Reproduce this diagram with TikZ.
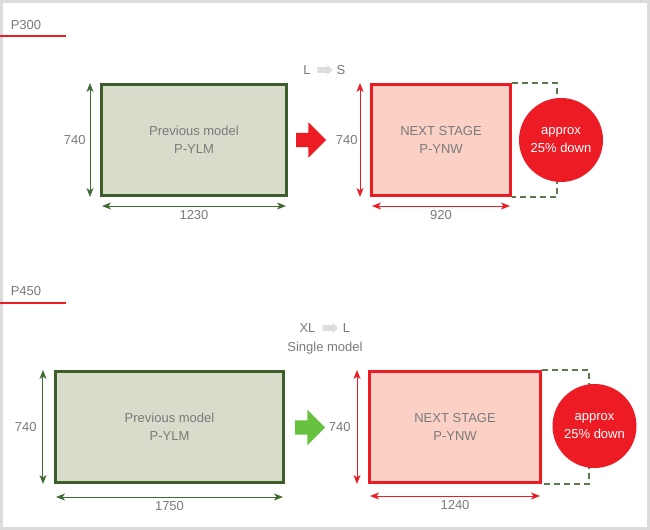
\documentclass[tikz,border=0pt]{standalone}
\usepackage{fontspec}
\setmainfont{Liberation Sans}
\usepackage{xcolor}
\usetikzlibrary{shapes.arrows,positioning,calc,arrows.meta}

\definecolor{oldgreen}{HTML}{3B5E2B}
\definecolor{oldfill}{HTML}{D9DCCB}
\definecolor{dimgreen}{HTML}{3F6B30}
\definecolor{dashgreen}{HTML}{5B7A4D}
\definecolor{mainred}{HTML}{ED1C24}
\definecolor{newfill}{HTML}{FBD1C6}
\definecolor{labelgray}{HTML}{7A7A7A}
\definecolor{arrowgray}{HTML}{DDDDDD}
\definecolor{framegray}{HTML}{DCDCDC}
\definecolor{goodgreen}{HTML}{67C13F}

\begin{document}
\begin{tikzpicture}[x=1bp, y=-1bp,
    font=\fontsize{13bp}{18bp}\selectfont,
    oldbox/.style={rectangle, draw=oldgreen, line width=3bp, fill=oldfill, text=labelgray, align=center, minimum height=111bp},
    newbox/.style={rectangle, draw=mainred, line width=3bp, fill=newfill, text=labelgray, align=center, minimum height=111bp},
    greendim/.style={draw=dimgreen, line width=1bp, {Stealth[length=9bp,width=7bp,inset=2.5bp]}-{Stealth[length=9bp,width=7bp,inset=2.5bp]}},
    reddim/.style={draw=mainred, line width=1bp, {Stealth[length=9bp,width=7bp,inset=2.5bp]}-{Stealth[length=9bp,width=7bp,inset=2.5bp]}},
    dimlabel/.style={text=labelgray, inner sep=4bp},
    fatarrow/.style={single arrow, single arrow head extend=10.5bp, minimum width=35bp, minimum height=30bp, inner xsep=0pt, inner ysep=7bp},
    smallarrow/.style={single arrow, fill=arrowgray, single arrow head extend=2.25bp, minimum width=10bp, minimum height=15bp, inner xsep=0pt, inner ysep=2.75bp},
    cutline/.style={draw=dashgreen, line width=1.5bp, dash pattern=on 6bp off 4bp},
    downcircle/.style={circle, fill=mainred, text=white, align=center, minimum size=84bp, inner sep=0pt, font=\fontsize{13bp}{17.5bp}\selectfont},
    tagline/.style={color=mainred, line width=1.5bp}
]
    \useasboundingbox (0,0) rectangle (650,530);
    \draw[framegray, line width=2.6bp] (1.3,1.3) rectangle (648.7,528.7);

    % P300
    \node[text=labelgray] (tag1) at (26,25) {P300};
    \draw[tagline] (0,36) -- (66,36);
    \node[text=labelgray] (from1) at (307,70) {L};
    \node[smallarrow] (swap1) at (323.5,70) {};
    \node[text=labelgray] (to1) at (341,70) {S};

    \node[oldbox, minimum width=185bp] (old1) at (194,140) {Previous model\\P-YLM};
    \draw[greendim] ([xshift=-10bp]old1.north west) -- node[dimlabel, left] {740} ([xshift=-10bp]old1.south west);
    \draw[greendim] ([xshift=2bp,yshift=-9bp]old1.south west) -- node[dimlabel, below] {1230} ([xshift=-2bp,yshift=-9bp]old1.south east);

    \node[fatarrow, fill=mainred] (go1) at (307.5,140) {};

    \node[newbox, minimum width=139bp] (new1) at (441,140) {NEXT STAGE\\P-YNW};
    \draw[reddim] ([xshift=-10bp]new1.north west) -- node[dimlabel, left, inner sep=2bp] {740} ([xshift=-10bp]new1.south west);
    \draw[reddim] ([xshift=2bp,yshift=-9bp]new1.south west) -- node[dimlabel, below] {920} ([xshift=-2bp,yshift=-9bp]new1.south east);
    \draw[cutline] (new1.north east) -- ++(45,0) |- (new1.south east);
    \node[downcircle] (cut1) at (561,140) {approx\\25\% down};

    % P450
    \node[text=labelgray] (tag2) at (26,291) {P450};
    \draw[tagline] (0,303) -- (66,303);
    \node[text=labelgray] (from2) at (307.5,328) {XL};
    \node[smallarrow] (swap2) at (329,328) {};
    \node[text=labelgray] (to2) at (346.5,328) {L};
    \node[text=labelgray] (single) at (325,348) {Single model};

    \node[oldbox, minimum width=228bp] (old2) at (169.5,427) {Previous model\\P-YLM};
    \draw[greendim] ([xshift=-11bp]old2.north west) -- node[dimlabel, left, inner sep=6bp] {740} ([xshift=-11bp]old2.south west);
    \draw[greendim] ([xshift=2bp,yshift=-13bp]old2.south west) -- node[dimlabel, below] {1750} ([xshift=-2bp,yshift=-13bp]old2.south east);

    \node[fatarrow, fill=goodgreen] (go2) at (306.5,427.5) {};

    \node[newbox, minimum width=171bp] (new2) at (455,427) {NEXT STAGE\\P-YNW};
    \draw[reddim] ([xshift=-11bp]new2.north west) -- node[dimlabel, left, inner sep=6bp] {740} ([xshift=-11bp]new2.south west);
    \draw[reddim] ([xshift=2bp,yshift=-12bp]new2.south west) -- node[dimlabel, below] {1240} ([xshift=-2bp,yshift=-12bp]new2.south east);
    \draw[cutline] (new2.north east) -- ++(47,0) |- (new2.south east);
    \node[downcircle] (cut2) at (594.5,426) {approx\\25\% down};
\end{tikzpicture}
\end{document}
